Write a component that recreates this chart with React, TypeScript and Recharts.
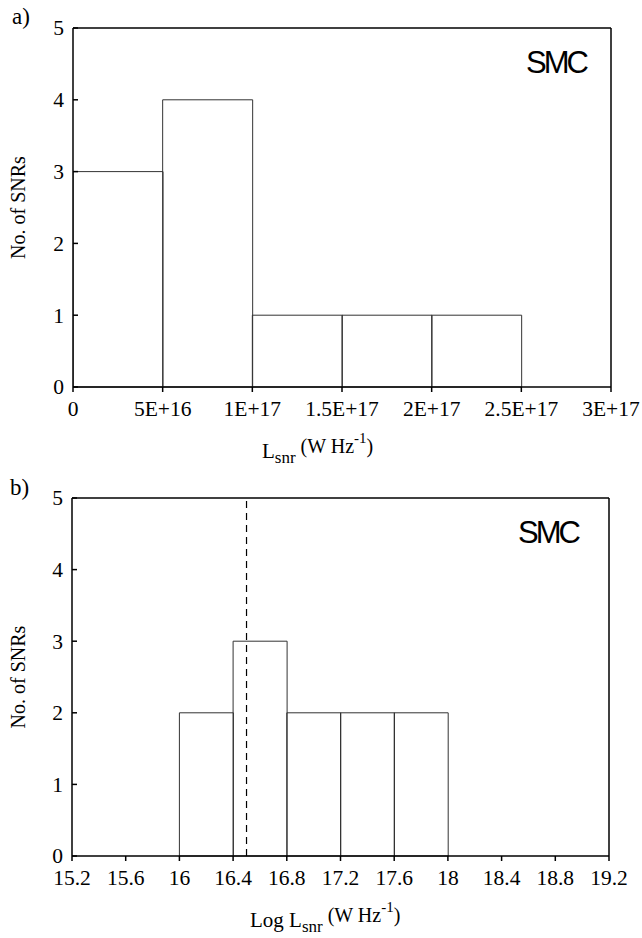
import React from 'react';
import { BarChart, Bar, XAxis, YAxis, ReferenceLine } from 'recharts';

// ---------- data ----------
const binStartA = [0, 5e16, 1e17, 1.5e17, 2e17];
const binEndA = [5e16, 1e17, 1.5e17, 2e17, 2.5e17];
const countsA = [3, 4, 1, 1, 1];
const ticksXA = [0, 5e16, 1e17, 1.5e17, 2e17, 2.5e17, 3e17];
const tickLabelsXA = ['0', '5E+16', '1E+17', '1.5E+17', '2E+17', '2.5E+17', '3E+17'];

const binStartB = [16, 16.4, 16.8, 17.2, 17.6];
const binEndB = [16.4, 16.8, 17.2, 17.6, 18];
const countsB = [2, 3, 2, 2, 2];
const ticksXB = [15.2, 15.6, 16, 16.4, 16.8, 17.2, 17.6, 18, 18.4, 18.8, 19.2];
const tickLabelsXB = ['15.2', '15.6', '16', '16.4', '16.8', '17.2', '17.6', '18', '18.4', '18.8', '19.2'];

const ticksY = [0, 1, 2, 3, 4, 5];
const tickLabelsY = ['0', '1', '2', '3', '4', '5'];
const medianLogL = [16.5];

const SERIF = '"Liberation Serif", "Times New Roman", serif';
const SANS = '"Liberation Sans", Arial, sans-serif';
const W = 634;

type PanelProps = {
  letter: string;
  starts: number[];
  ends: number[];
  counts: number[];
  xTicks: number[];
  xTickLabels: string[];
  height: number;
  marginTop: number;
  xAxisHeight: number;
  yAxisWidth: number;
  marginRight: number;
  titleOffset: number;
  prefix: string;
  smcX: number;
  smcY: number;
  letterX: number;
  letterY: number;
  dashedAt?: number[];
};

function Panel(p: PanelProps) {
  const data = p.starts.map((s, i) => ({ mid: (s + p.ends[i]) / 2, count: p.counts[i] }));
  const xDomain = [p.xTicks[0], p.xTicks[p.xTicks.length - 1]];

  const XTick = (props: any) => {
    const { x, y, payload } = props;
    const idx = p.xTicks.indexOf(payload.value);
    const label = idx >= 0 ? p.xTickLabels[idx] : String(payload.value);
    return (
      <text x={x} y={y + 24} textAnchor="middle" fontFamily={SERIF} fontSize={21.5} fill="#000">
        {label}
      </text>
    );
  };

  const YTickLeft = (props: any) => {
    const { x, y, payload } = props;
    const idx = ticksY.indexOf(payload.value);
    const label = idx >= 0 ? tickLabelsY[idx] : String(payload.value);
    return (
      <g>
        <line x1={x} x2={x + 5} y1={y} y2={y} stroke="#000" strokeWidth={1.5} />
        <text x={x - 9} y={y} dy="0.34em" textAnchor="end" fontFamily={SERIF} fontSize={21.5} fill="#000">
          {label}
        </text>
      </g>
    );
  };

  const YTickRight = (props: any) => {
    const { x, y } = props;
    return <line x1={x} x2={x - 5} y1={y} y2={y} stroke="#000" strokeWidth={1.5} />;
  };

  const XTitle = (props: any) => {
    const vb = props.viewBox;
    return (
      <text x={vb.x + p.titleOffset} y={vb.y + 71} fontFamily={SERIF} fill="#000">
        <tspan fontSize={21}>{p.prefix}L</tspan>
        <tspan fontSize={17} dy={5}>snr</tspan>
        <tspan fontSize={20} dy={-10}> (W Hz</tspan>
        <tspan fontSize={15} dy={-10}>-1</tspan>
        <tspan fontSize={20} dy={10}>)</tspan>
      </text>
    );
  };

  const YTitle = (props: any) => {
    const vb = props.viewBox;
    const cx = 10;
    const cy = vb.y + vb.height / 2;
    return (
      <text
        x={cx}
        y={cy}
        transform={`rotate(-90 ${cx} ${cy})`}
        textAnchor="middle"
        dominantBaseline="central"
        fontFamily={SERIF}
        fontSize={20}
        fill="#000"
      >
        No. of SNRs
      </text>
    );
  };

  return (
    <div style={{ position: 'relative', width: W, height: p.height }}>
      <BarChart
        width={W}
        height={p.height}
        data={data}
        margin={{ top: p.marginTop, right: p.marginRight, bottom: 0, left: 0 }}
        barCategoryGap={0}
        barGap={0}
      >
        <XAxis
          type="number"
          dataKey="mid"
          domain={xDomain}
          ticks={p.xTicks}
          interval={0}
          height={p.xAxisHeight}
          axisLine={{ stroke: '#000', strokeWidth: 1.5 }}
          tickLine={{ stroke: '#000', strokeWidth: 1.5 }}
          tickSize={5}
          tickMargin={0}
          tick={XTick}
          label={{ content: XTitle }}
          allowDataOverflow
        />
        <YAxis
          type="number"
          domain={[0, 5]}
          ticks={ticksY}
          interval={0}
          width={p.yAxisWidth}
          axisLine={{ stroke: '#000', strokeWidth: 1.5 }}
          tickLine={false}
          tickSize={0}
          tickMargin={0}
          tick={YTickLeft}
          label={{ content: YTitle }}
        />
        <YAxis
          yAxisId="right"
          orientation="right"
          type="number"
          domain={[0, 5]}
          ticks={ticksY}
          interval={0}
          width={1}
          axisLine={{ stroke: '#000', strokeWidth: 1.5 }}
          tickLine={false}
          tickSize={0}
          tickMargin={0}
          tick={YTickRight}
        />
        <ReferenceLine y={5} stroke="#000" strokeWidth={1.5} />
        {(p.dashedAt || []).map((v, i) => (
          <ReferenceLine key={i} x={v} stroke="#000" strokeWidth={1.2} strokeDasharray="7 5" />
        ))}
        <Bar dataKey="count" fill="none" stroke="#333" strokeWidth={1} isAnimationActive={false} />
      </BarChart>
      <svg
        width={W}
        height={p.height}
        style={{ position: 'absolute', left: 0, top: 0, pointerEvents: 'none', overflow: 'visible' }}
      >
        <text x={p.letterX} y={p.letterY} fontFamily={SERIF} fontSize={23} fill="#000">
          {p.letter}
        </text>
        <text x={p.smcX} y={p.smcY} fontFamily={SANS} fontSize={31} letterSpacing={-3} fill="#000">
          SMC
        </text>
      </svg>
    </div>
  );
}

export default function App() {
  return (
    <div
      style={{
        width: 642,
        height: 938,
        boxSizing: 'border-box',
        padding: '8px 0 0 8px',
        overflow: 'hidden',
        background: '#fff',
      }}
    >
      <style>{`html, body { margin: 0; overflow: hidden; } .recharts-surface { overflow: visible; }`}</style>
      <Panel
        letter="a)"
        starts={binStartA}
        ends={binEndA}
        counts={countsA}
        xTicks={ticksXA}
        xTickLabels={tickLabelsXA}
        height={470}
        marginTop={20}
        xAxisHeight={91}
        yAxisWidth={65}
        marginRight={30}
        titleOffset={189}
        prefix=""
        smcX={518}
        smcY={65}
        letterX={4}
        letterY={16}
      />
      <Panel
        letter="b)"
        starts={binStartB}
        ends={binEndB}
        counts={countsB}
        xTicks={ticksXB}
        xTickLabels={tickLabelsXB}
        height={460}
        marginTop={20}
        xAxisHeight={82}
        yAxisWidth={64}
        marginRight={32}
        titleOffset={178}
        prefix="Log "
        smcX={510}
        smcY={65}
        letterX={2}
        letterY={17}
        dashedAt={medianLogL}
      />
    </div>
  );
}
